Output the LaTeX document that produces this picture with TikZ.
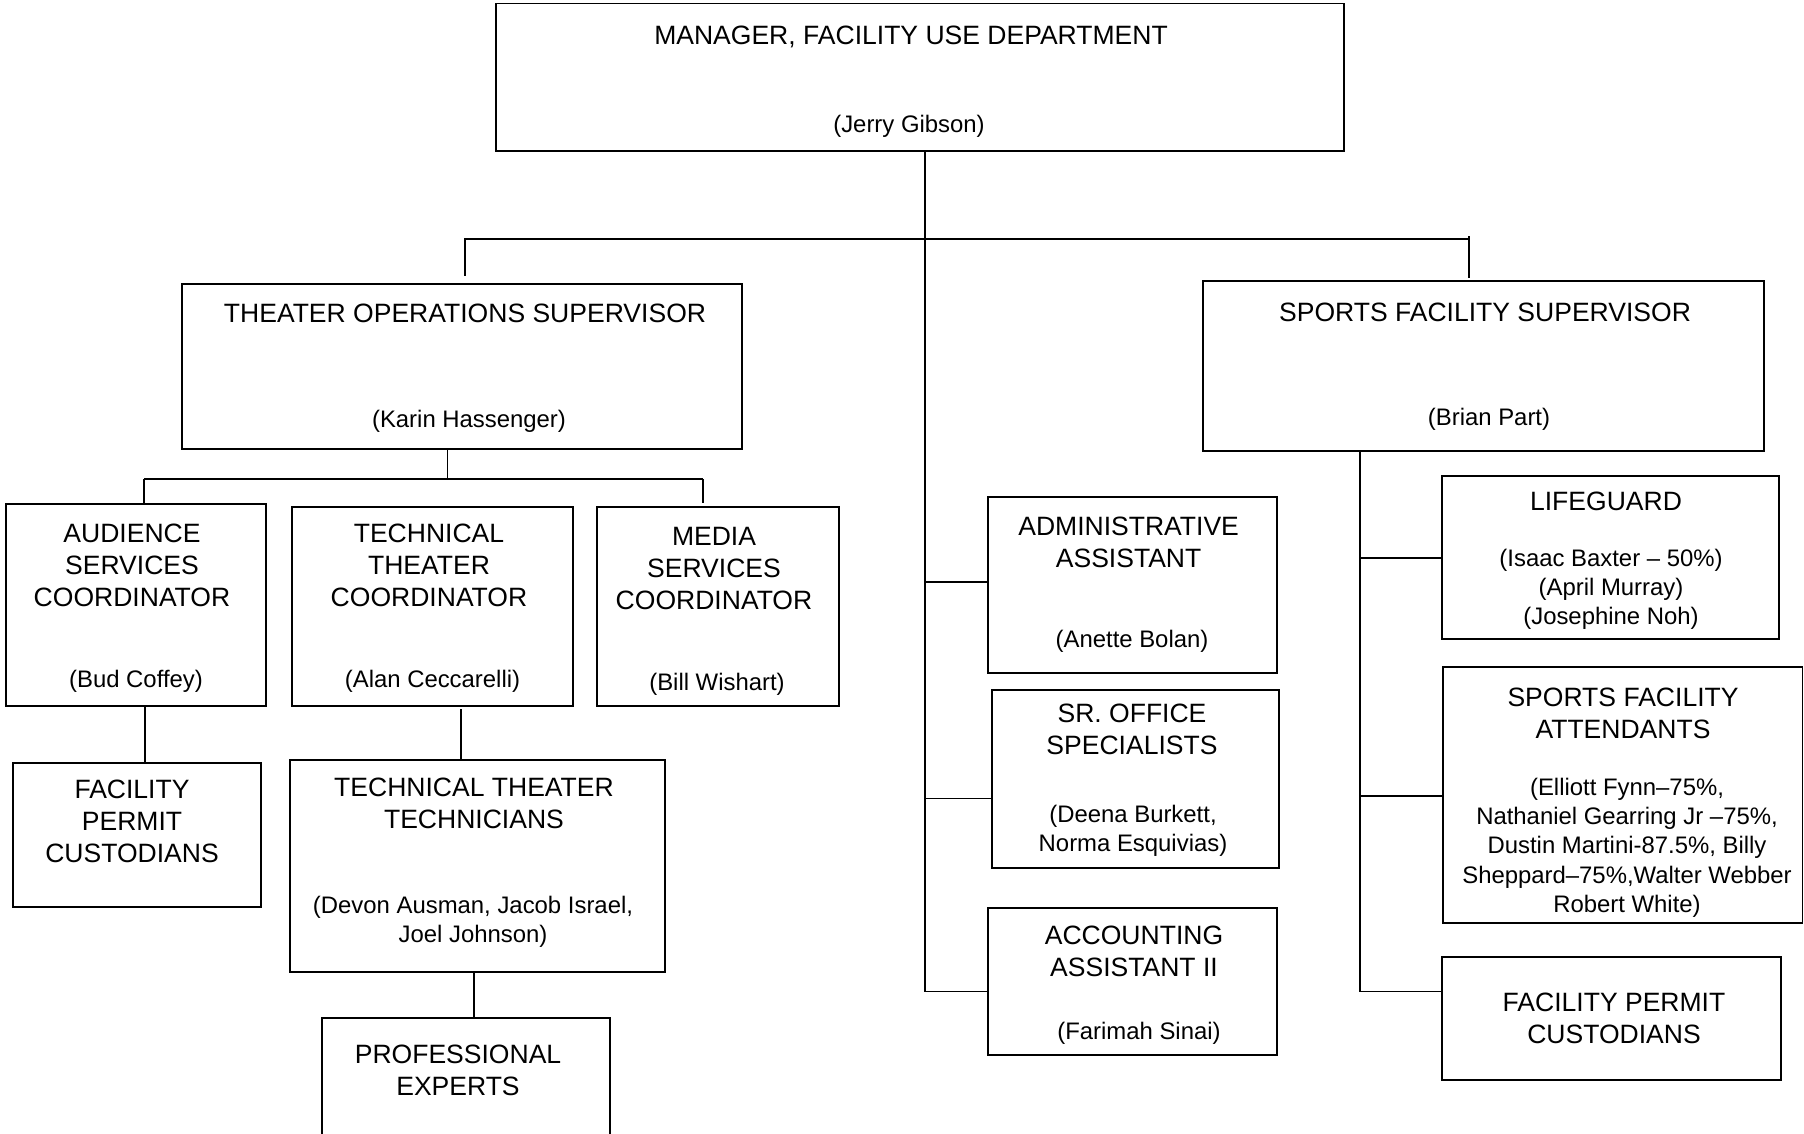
\documentclass[tikz,border=0pt]{standalone}
\usepackage{fontspec}
\setmainfont{Liberation Sans}
\usetikzlibrary{positioning,fit}

\tikzset{
  orgbox/.style={draw,line width=1.1pt,inner sep=0pt},
  ttl/.style={anchor=north,inner sep=0pt,align=center,font=\fontsize{15.1}{18.2}\selectfont},
  nm/.style={anchor=north,inner sep=0pt,align=center,font=\fontsize{13.6}{16.7}\selectfont},
  link/.style={line width=1pt}
}

\begin{document}
\begin{tikzpicture}[x=0.02cm,y=-0.02cm]
\clip (0,0) rectangle (1804,1133);
\fill[white] (0,0) rectangle (1804,1133);

% top level
\node[orgbox,fit={(496,3.5) (1344,151)}] (mgr) {};
\node[ttl] (mgr-t) at (911,26) {MANAGER, FACILITY USE DEPARTMENT};
\node[nm] (mgr-n) at (909,115) {(Jerry Gibson)};

% supervisors
\node[orgbox,fit={(182,284) (742,449)}] (theater) {};
\node[ttl] (theater-t) at (465,303.5) {THEATER OPERATIONS SUPERVISOR};
\node[nm] (theater-n) at (469,409.5) {(Karin Hassenger)};
\node[orgbox,fit={(1203,281) (1764,451)}] (sports) {};
\node[ttl] (sports-t) at (1485,302.5) {SPORTS FACILITY SUPERVISOR};
\node[nm] (sports-n) at (1489,408) {(Brian Part)};

% theater side
\node[orgbox,fit={(6,504) (266,706)}] (aud) {};
\node[ttl] (aud-t) at (132,523.5) {AUDIENCE\\SERVICES\\COORDINATOR};
\node[nm] (aud-n) at (136,669.5) {(Bud Coffey)};
\node[orgbox,fit={(292,507) (573,706)}] (tech) {};
\node[ttl] (tech-t) at (429,523.5) {TECHNICAL\\THEATER\\COORDINATOR};
\node[nm] (tech-n) at (432.5,669.5) {(Alan Ceccarelli)};
\node[orgbox,fit={(597,507) (839,706)}] (media) {};
\node[ttl] (media-t) at (714,526.5) {MEDIA\\SERVICES\\COORDINATOR};
\node[nm] (media-n) at (717,672.5) {(Bill Wishart)};
\node[orgbox,fit={(13,763) (261,907)}] (fpcL) {};
\node[ttl] (fpcL-t) at (132,779.5) {FACILITY\\PERMIT\\CUSTODIANS};
\node[orgbox,fit={(290,760) (665,972)}] (ttt) {};
\node[ttl] (ttt-t) at (474,777.5) {TECHNICAL THEATER\\TECHNICIANS};
\node[nm] (ttt-n) at (473,895.5) {(Devon Ausman, Jacob Israel,\\Joel Johnson)};
\node[orgbox,fit={(322,1018) (610,1145)}] (prof) {};
\node[ttl] (prof-t) at (458,1044.5) {PROFESSIONAL\\EXPERTS};

% office staff
\node[orgbox,fit={(988,497) (1277,673)}] (admin) {};
\node[ttl] (admin-t) at (1128.6,516.5) {ADMINISTRATIVE\\ASSISTANT};
\node[nm] (admin-n) at (1132,630) {(Anette Bolan)};
\node[orgbox,fit={(992,690) (1279,868)}] (sroff) {};
\node[ttl] (sroff-t) at (1132,703.5) {SR. OFFICE\\SPECIALISTS};
\node[nm] (sroff-n) at (1133,804.5) {(Deena Burkett,\\Norma Esquivias)};
\node[orgbox,fit={(988,908) (1277,1055)}] (acct) {};
\node[ttl] (acct-t) at (1134,925.5) {ACCOUNTING\\ASSISTANT II};
\node[nm] (acct-n) at (1139,1021.5) {(Farimah Sinai)};

% sports side
\node[orgbox,fit={(1442,476) (1779,639)}] (life) {};
\node[ttl] (life-t) at (1606,492) {LIFEGUARD};
\node[nm] (life-n) at (1611,548.5) {(Isaac Baxter -- 50\%)\\(April Murray)\\(Josephine Noh)};
\node[orgbox,fit={(1443,667) (1802.5,923)}] (sfa) {};
\node[ttl] (sfa-t) at (1623,687.5) {SPORTS FACILITY\\ATTENDANTS};
\node[nm] (sfa-n) at (1627,777.5) {(Elliott Fynn--75\%,\\Nathaniel Gearring Jr --75\%,\\Dustin Martini-87.5\%, Billy\\Sheppard--75\%,Walter Webber\\Robert White)};
\node[orgbox,fit={(1442,957) (1781,1080)}] (fpcR) {};
\node[ttl] (fpcR-t) at (1614,992.5) {FACILITY PERMIT\\CUSTODIANS};

% junctions
\coordinate (hub) at (925,239);
\coordinate (midend) at (925,991.5);
\coordinate (busL) at (464,239);
\coordinate (busR) at (1469,239);
\coordinate (dropL) at (465,276);
\coordinate (dropR) at (1469,278);
\coordinate (tbus) at (447.5,479);
\coordinate (tbusL) at (144,479);
\coordinate (tbusR) at (703,479);
\coordinate (tdropR) at (703,503);
\coordinate (cAud) at (145,706);
\coordinate (cTech) at (461,709);
\coordinate (cTtt) at (474,972);
\coordinate (m1) at (925,582);
\coordinate (m2) at (925,798.5);
\coordinate (rcol) at (1360,991.5);
\coordinate (r1) at (1360,558);
\coordinate (r2) at (1360,796);

% connectors
\draw[link] (mgr.south -| hub) -- (midend) -- (midend -| acct.west);
\draw[link] (busL) -- (busR);
\draw[link] (busL -| dropL) -- (dropL);
\draw[link] ([yshift=1.5pt]busR) -- (dropR);
\draw[link] (theater.south -| tbus) -- (tbus);
\draw[link] (tbusL) -- (tbusR);
\draw[link] (tbusL) -- (tbusL |- aud.north);
\draw[link] (tbusR) -- (tdropR);
\draw[link] (cAud) -- (cAud |- fpcL.north);
\draw[link] (cTech) -- (cTech |- ttt.north);
\draw[link] (cTtt) -- (cTtt |- prof.north);
\draw[link] (m1) -- (m1 -| admin.west);
\draw[link] (m2) -- (m2 -| sroff.west);
\draw[link] (sports.south -| rcol) -- (rcol) -- (rcol -| fpcR.west);
\draw[link] (r1) -- (r1 -| life.west);
\draw[link] (r2) -- (r2 -| sfa.west);
\end{tikzpicture}
\end{document}
